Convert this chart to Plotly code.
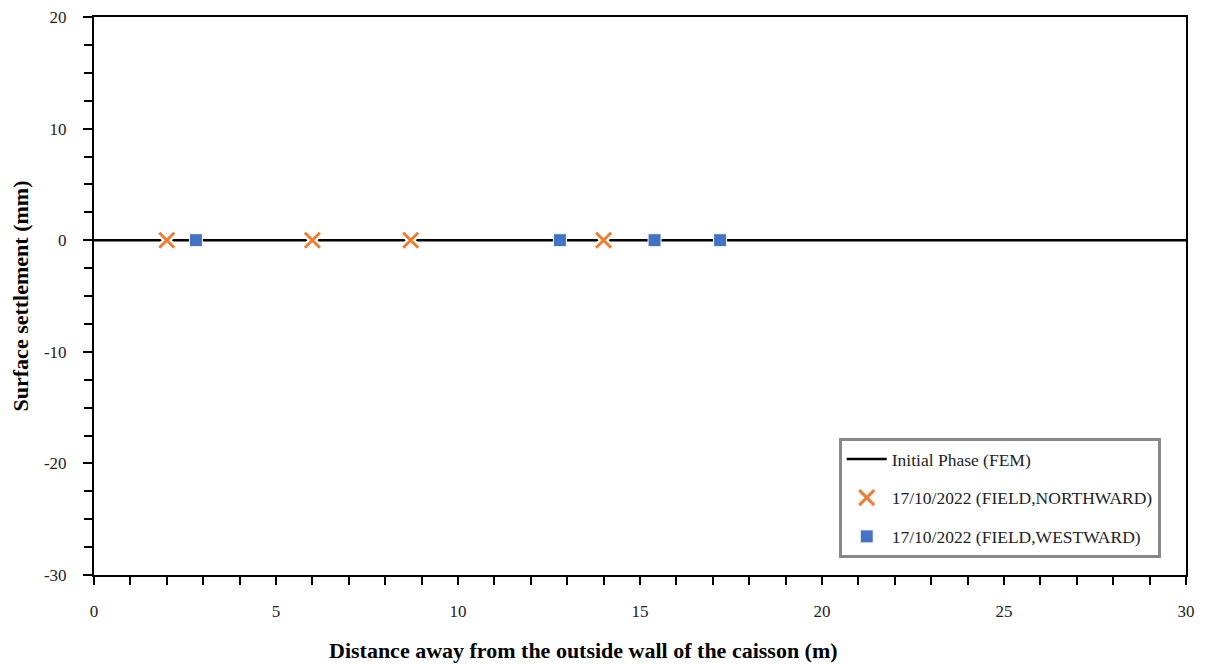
import plotly.graph_objects as go

fem_x = [0, 30]
fem_y = [0, 0]
north_x = [2.0, 6.0, 8.7, 14.0]
north_y = [0, 0, 0, 0]
west_x = [2.8, 12.8, 15.4, 17.2]
west_y = [0, 0, 0, 0]
x_ticks = [0, 5, 10, 15, 20, 25, 30]
y_ticks = [-30, -20, -10, 0, 10, 20]
y_tick_text = ["-30", "-20", "-10", "0", "10", "20"]

FONT = "Liberation Serif"

fig = go.Figure()
fig.add_trace(go.Scatter(x=fem_x, y=fem_y, mode="lines", name="Initial Phase (FEM)",
                         legendgroup="a",
                         line=dict(color="black", width=2.5)))
# white halo under the crosses
fig.add_trace(go.Scatter(x=north_x, y=north_y, mode="markers", showlegend=False, hoverinfo="skip",
                         marker=dict(symbol="x", size=18, color="white",
                                     line=dict(color="white", width=0))))
fig.add_trace(go.Scatter(x=north_x, y=north_y, mode="markers", name="17/10/2022 (FIELD,NORTHWARD)",
                         legendgroup="b",
                         marker=dict(symbol="x-thin-open", size=15, color="#ED7D31",
                                     line=dict(color="#ED7D31", width=3))))
fig.add_trace(go.Scatter(x=west_x, y=west_y, mode="markers", name="17/10/2022 (FIELD,WESTWARD)",
                         legendgroup="c",
                         marker=dict(symbol="square", size=13, color="#4472C4",
                                     line=dict(color="white", width=1))))

tick_font = dict(family=FONT, size=17, color="#222")

# the page body has an 8px margin, so the figure is 8px smaller and margins offset
fig.update_layout(
    width=1198, height=656,
    margin=dict(l=86, r=20, t=9, b=89),
    paper_bgcolor="white", plot_bgcolor="white",
    font=dict(family=FONT, size=17, color="#222"),
    showlegend=True,
    legend=dict(x=0.682, y=0.2455, xanchor="left", yanchor="top",
                bordercolor="#888", borderwidth=3, bgcolor="white",
                font=dict(family=FONT, size=17.5, color="#222"),
                tracegroupgap=13, itemwidth=40),
    xaxis=dict(range=[0, 30], tickvals=x_ticks, automargin=False,
               ticks="outside", ticklen=8, tickwidth=2, tickcolor="black",
               showline=True, linecolor="black", linewidth=2, mirror=True,
               showgrid=False, zeroline=False, ticklabelstandoff=12,
               ticklabeloverflow="allow",
               tickfont=tick_font,
               minor=dict(dtick=1, ticks="outside", ticklen=8, tickwidth=2, tickcolor="black")),
    yaxis=dict(range=[-30, 20], tickvals=y_ticks, ticktext=y_tick_text, automargin=False,
               ticks="outside", ticklen=9, tickwidth=2, tickcolor="black",
               showline=True, linecolor="black", linewidth=2, mirror=True,
               showgrid=False, zeroline=False, ticklabelstandoff=13,
               ticklabeloverflow="allow",
               tickfont=tick_font,
               minor=dict(dtick=2.5, ticks="outside", ticklen=8, tickwidth=2, tickcolor="black"),
               title=dict(text="<b>Surface settlement (mm)</b>",
                          font=dict(family=FONT, size=22, color="black"), standoff=14)),
    annotations=[dict(text="<b>Distance away from the outside wall of the caisson (m)</b>",
                      xref="paper", yref="paper", x=0.448, y=-0.135,
                      xanchor="center", yanchor="middle", showarrow=False,
                      font=dict(family=FONT, size=22, color="black"))],
)

fig.write_html("out.html")
